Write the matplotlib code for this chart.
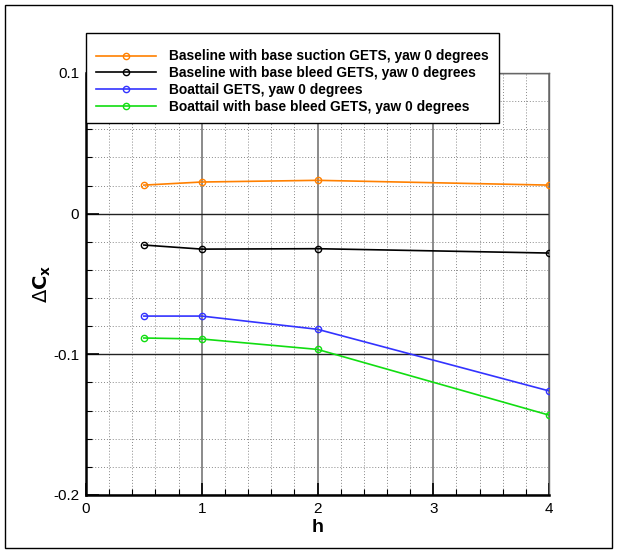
import matplotlib
matplotlib.use("Agg")
import matplotlib.pyplot as plt
from matplotlib.patches import Rectangle
from matplotlib.ticker import MultipleLocator

# --- data ---
h = [0.5, 1.0, 2.0, 4.0]
suction_base = [0.0203, 0.0225, 0.0237, 0.0203]
bleed_base = [-0.0223, -0.0252, -0.0249, -0.0280]
boattail = [-0.0728, -0.0728, -0.0822, -0.1260]
boattail_bleed = [-0.0884, -0.0891, -0.0965, -0.1432]

labels = [
    "Baseline with base suction GETS, yaw 0 degrees",
    "Baseline with base bleed GETS, yaw 0 degrees",
    "Boattail GETS, yaw 0 degrees",
    "Boattail with base bleed GETS, yaw 0 degrees",
]
colors = ["#ff8000", "#000000", "#3333ff", "#11dd11"]
xticks = [0, 1, 2, 3, 4]
yticks = [-0.2, -0.1, 0, 0.1]

plt.rcParams["font.family"] = ["Liberation Sans", "DejaVu Sans"]

fig = plt.figure(figsize=(6.19, 5.51), dpi=100)
ax = fig.add_axes([86 / 619, 1 - 495 / 551, (549 - 86) / 619, (495 - 73) / 551])

# outer frame around the whole picture
fig.patches.append(Rectangle((5 / 619, 3 / 551), 607 / 619, 543 / 551,
                             transform=fig.transFigure, fill=False,
                             edgecolor="black", linewidth=1.0))

series = [suction_base, bleed_base, boattail, boattail_bleed]
for ys, c, lab in zip(series, colors, labels):
    ax.plot(h, ys, color=c, lw=1.2, marker="o", ms=4.5, mfc="none",
            mec=c, mew=1.0, label=lab, zorder=3)

ax.set_xlim(0, 4)
ax.set_ylim(-0.2, 0.1)

ax.set_xticks(xticks)
ax.set_xticklabels([str(t) for t in xticks])
ax.set_yticks(yticks)
ax.set_yticklabels(["-0.2", "-0.1", "0", "0.1"])
ax.xaxis.set_minor_locator(MultipleLocator(0.2))
ax.yaxis.set_minor_locator(MultipleLocator(0.02))

ax.grid(which="minor", color="#888888", ls=(0, (1, 2)), lw=0.7)
ax.grid(which="major", axis="x", color="#777777", ls="-", lw=1.2)
ax.grid(which="major", axis="y", color="#222222", ls="-", lw=1.0)

ax.tick_params(which="major", direction="in", length=9, width=1.2,
               labelsize=11, pad=5)
ax.tick_params(which="minor", direction="in", length=4, width=0.8)

for s in ["left", "bottom"]:
    ax.spines[s].set_linewidth(1.8)
    ax.spines[s].set_color("black")
for s in ["top", "right"]:
    ax.spines[s].set_linewidth(1.0)
    ax.spines[s].set_color("#666666")

ax.set_xlabel("h", fontsize=14, fontweight="bold", labelpad=2)
ax.set_ylabel(r"$\Delta$" + r"$\mathbf{C_x}$", fontsize=14, labelpad=0)

handles, labs = ax.get_legend_handles_labels()
leg = fig.legend(handles, labs, loc="upper left",
                 bbox_to_anchor=(86 / 619, 1 - 33 / 551),
                 prop={"size": 9.9, "weight": "bold"},
                 title=" ", title_fontsize=3,
                 handlelength=4.4, handletextpad=0.95, labelspacing=0.2,
                 borderpad=0.7, borderaxespad=0, fancybox=False,
                 framealpha=1, edgecolor="black")
leg.get_frame().set_linewidth(1.0)

fig.savefig("out.png", dpi=100)
